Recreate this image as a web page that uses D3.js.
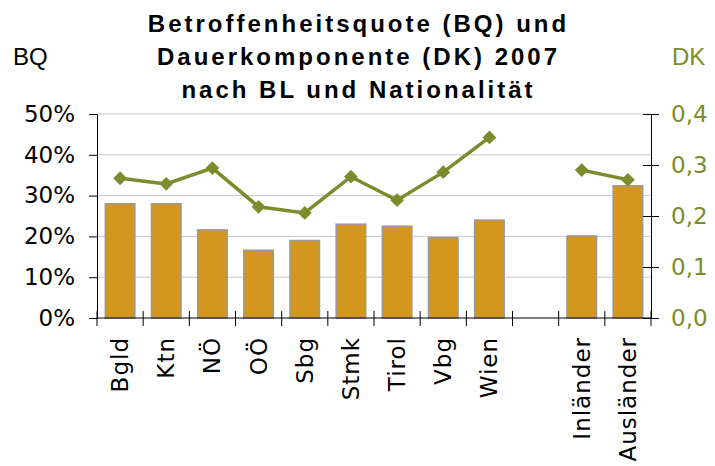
<!DOCTYPE html>
<html><head><meta charset="utf-8">
<script src="https://cdn.jsdelivr.net/npm/d3@7"></script>
<style>body{margin:0;background:#fff}</style>
</head><body>
<script>
const categories = ["Bgld","Ktn","NÖ","OÖ","Sbg","Stmk","Tirol","Vbg","Wien","","Inländer","Ausländer"];
const bqValues = [0.28,0.28,0.216,0.166,0.19,0.23,0.225,0.197,0.24,null,0.201,0.324];
const dkValues = [0.274,0.263,0.294,0.218,0.206,0.277,0.231,0.286,0.354,null,0.290,0.271];
const bqTicks = [0,0.1,0.2,0.3,0.4,0.5];
const dkTicks = [0,0.1,0.2,0.3,0.4];
const titleLines = ["Betroffenheitsquote (BQ) und","Dauerkomponente (DK) 2007","nach BL und Nationalität"];

(function(){
const W=715,H=466;
const svg=d3.select("body").append("svg").attr("width",W).attr("height",H);
const mLeft=97,mRight=651,mTop=114,mBottom=318;
const olive="#7a8c2c";
const x=d3.scaleBand().domain(d3.range(categories.length)).range([mLeft,mRight]).paddingInner(0.36).paddingOuter(0.18);
const xb=d3.scaleBand().domain(d3.range(categories.length)).range([mLeft,mRight]);
const yL=d3.scaleLinear().domain([0,0.5]).range([mBottom,mTop]);
const yR=d3.scaleLinear().domain([0,0.4]).range([mBottom,mTop]);

svg.append("g").selectAll("line").data(bqTicks.slice(1)).join("line")
 .attr("x1",mLeft).attr("x2",mRight).attr("y1",d=>yL(d)).attr("y2",d=>yL(d))
 .attr("stroke","#c8c8c8").attr("stroke-width",1);

svg.append("g").selectAll("rect").data(bqValues.map((v,i)=>({v,i})).filter(d=>d.v!=null)).join("rect")
 .attr("x",d=>x(d.i)).attr("width",x.bandwidth()).attr("y",d=>yL(d.v)).attr("height",d=>yL(0)-yL(d.v))
 .attr("fill","#d3961f").attr("stroke","#9a9a9a").attr("stroke-width",1.5);

const axL=svg.append("g").attr("transform",`translate(${mLeft},0)`).call(d3.axisLeft(yL).tickValues(bqTicks).tickFormat(d3.format(".0%")).tickSize(8).tickPadding(14));
axL.select(".domain").attr("stroke","#000");
axL.selectAll(".tick line").attr("x2",0).attr("x1",-8);
axL.selectAll("text").attr("font-family","DejaVu Sans").attr("font-size",23).attr("fill","#000");
const axR=svg.append("g").attr("transform",`translate(${mRight},0)`).call(d3.axisRight(yR).tickValues(dkTicks).tickFormat(d=>d3.format(".1f")(d).replace(".",",")).tickSize(8).tickPadding(12));
axR.selectAll(".tick line").attr("x1",-8).attr("x2",8);
axR.selectAll("text").attr("font-family","DejaVu Sans").attr("font-size",23).attr("fill",olive);
const axB=svg.append("g").attr("transform",`translate(0,${mBottom})`);
axB.append("line").attr("x1",mLeft).attr("x2",mRight).attr("stroke","#000");
axB.selectAll("line.t").data(d3.range(categories.length+1)).join("line").attr("class","t")
 .attr("x1",d=>mLeft+d*xb.step()).attr("x2",d=>mLeft+d*xb.step()).attr("y1",-7).attr("y2",8).attr("stroke","#000");
axB.selectAll("text").data(categories).join("text")
 .attr("transform",(d,i)=>`translate(${xb(i)+xb.bandwidth()/2+8},19) rotate(-90)`)
 .attr("text-anchor","end").attr("font-family","DejaVu Sans").attr("font-size",23).attr("letter-spacing",1).text(d=>d);

const pts=dkValues.map((v,i)=>({v,i}));
const line=d3.line().defined(d=>d.v!=null).x(d=>xb(d.i)+xb.bandwidth()/2).y(d=>yR(d.v));
svg.append("path").datum(pts).attr("d",line).attr("fill","none").attr("stroke",olive).attr("stroke-width",3.5);
svg.append("g").selectAll("path").data(pts.filter(d=>d.v!=null)).join("path")
 .attr("d",d3.symbol(d3.symbolSquare,95)())
 .attr("transform",d=>`translate(${xb(d.i)+xb.bandwidth()/2},${yR(d.v)}) rotate(45)`)
 .attr("fill",olive);

svg.append("g").selectAll("text").data(titleLines).join("text")
 .attr("x",358.5).attr("y",(d,i)=>31.5+i*33.3).attr("text-anchor","middle")
 .attr("font-family","Liberation Sans").attr("font-weight","bold").attr("font-size",24).attr("letter-spacing",3).text(d=>d);
svg.append("text").attr("x",13).attr("y",65).attr("font-family","Liberation Sans").attr("font-size",24).text("BQ");
svg.append("text").attr("x",672).attr("y",65).attr("font-family","Liberation Sans").attr("font-size",24).attr("fill",olive).text("DK");
})();
</script>
</body></html>
